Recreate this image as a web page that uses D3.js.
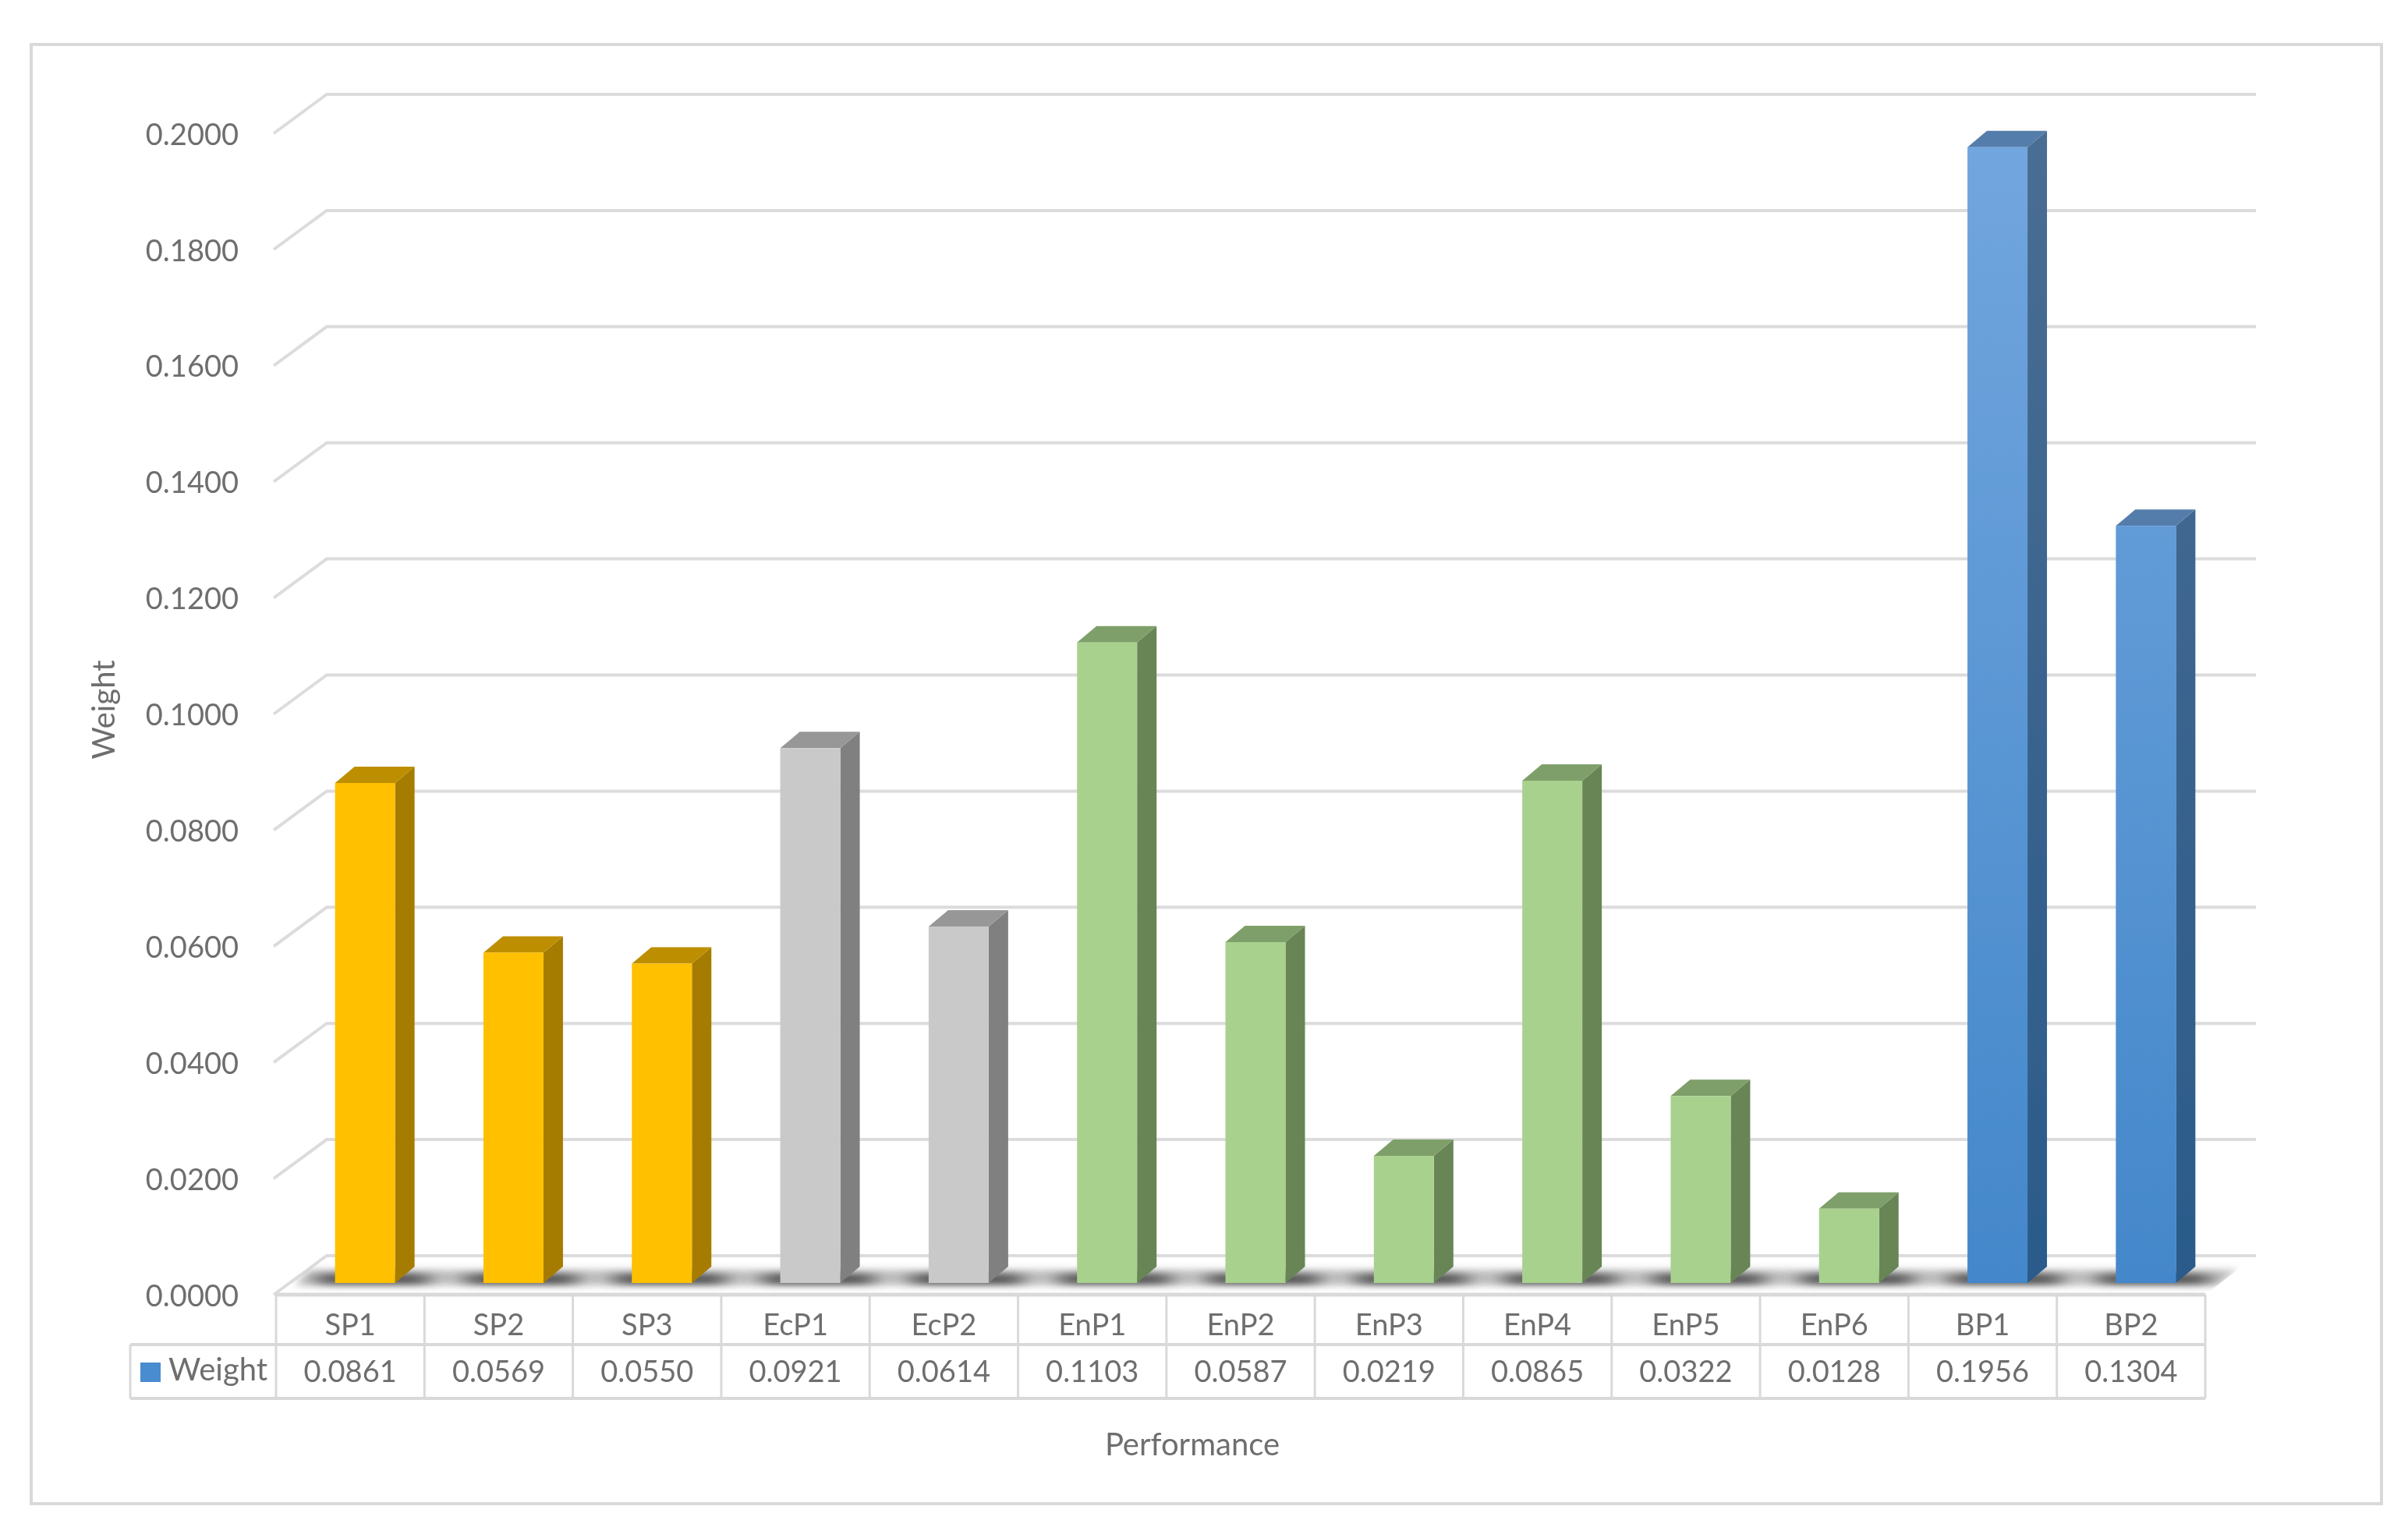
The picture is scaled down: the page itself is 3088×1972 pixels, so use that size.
<!DOCTYPE html>
<html>
<head>
<meta charset="utf-8">
<title>Weight by performance indicator</title>
<script src="https://d3js.org/d3.v7.min.js"></script>
<style>
  html, body { margin: 0; background: #fff; }
  text { font-family: Lato, "Open Sans", sans-serif; fill: #6e6e6e; }
</style>
</head>
<body>
<svg id="chart" width="3088" height="1972"></svg>
<script>
const categories = ["SP1", "SP2", "SP3", "EcP1", "EcP2", "EnP1", "EnP2", "EnP3", "EnP4", "EnP5", "EnP6", "BP1", "BP2"];
const weights = [0.0861, 0.0569, 0.0550, 0.0921, 0.0614, 0.1103, 0.0587, 0.0219, 0.0865, 0.0322, 0.0128, 0.1956, 0.1304];
const groups = ["SP", "SP", "SP", "EcP", "EcP", "EnP", "EnP", "EnP", "EnP", "EnP", "EnP", "BP", "BP"];
const yTicks = [0, 0.02, 0.04, 0.06, 0.08, 0.1, 0.12, 0.14, 0.16, 0.18, 0.2];

const fontSize = 38, titleSize = 40;
const left = 354, right = 2828;
const wallDx = 65, wallDy = 50;
const rowTop = 1660, rowMid = 1724, rowBottom = 1793;
const legendLeft = 167;

// bars stand part way into the floor
const barLift = 15, barShift = 19, barW = 77, sideDx = 25, sideDy = 21;

const palette = {
  SP:  { front: ["#ffc000", "#ffc000"], side: ["#a67c00", "#a67c00"], top: "#bd8f00" },
  EcP: { front: ["#c9c9c9", "#c9c9c9"], side: ["#808080", "#808080"], top: "#979797" },
  EnP: { front: ["#a9d18e", "#a9d18e"], side: ["#688555", "#688555"], top: "#7f9f6b" },
  BP:  { front: ["#72a6de", "#4387ca"], side: ["#4a6d93", "#2a5a8a"], top: "#557dab" }
};

const svg = d3.select("#chart");

const x = d3.scaleBand().domain(categories).range([left, right]);
const y = d3.scaleLinear().domain([0, 0.2]).range([1660, 171]);

const defs = svg.append("defs");
Object.keys(palette).forEach(function(g) {
  ["front", "side"].forEach(function(face) {
    const grad = defs.append("linearGradient")
      .attr("id", g + "-" + face)
      .attr("gradientUnits", "userSpaceOnUse")
      .attr("x1", 0).attr("x2", 0)
      .attr("y1", y(0.2)).attr("y2", y(0));
    grad.append("stop").attr("offset", 0).attr("stop-color", palette[g][face][0]);
    grad.append("stop").attr("offset", 1).attr("stop-color", palette[g][face][1]);
  });
});
defs.append("filter").attr("id", "shadowBlur")
  .attr("x", "-40%").attr("y", "-200%").attr("width", "180%").attr("height", "500%")
  .append("feGaussianBlur").attr("stdDeviation", "14 4");
defs.append("filter").attr("id", "bandBlur")
  .attr("x", "-5%").attr("y", "-100%").attr("width", "110%").attr("height", "300%")
  .append("feGaussianBlur").attr("stdDeviation", 5);
defs.append("filter").attr("id", "soft")
  .append("feGaussianBlur").attr("stdDeviation", 0.7);

const floorEdge = d3.line()([[left, y(0)], [left + wallDx, y(0) - wallDy], [right + wallDx, y(0) - wallDy], [right, y(0)]]) + "Z";
defs.append("clipPath").attr("id", "floorClip")
  .append("path")
  .attr("d", floorEdge);

const root = svg.append("g").attr("filter", "url(#soft)");

// outer frame
root.append("rect")
  .attr("x", 40).attr("y", 57).attr("width", 3014).attr("height", 1871)
  .attr("fill", "#fff").attr("stroke", "#d9d9d9").attr("stroke-width", 4);

// gridlines, each with its slanted run down the side wall
root.append("g").selectAll("path")
  .data(yTicks)
  .enter()
  .append("path")
    .attr("d", function(d) {
      return d3.line()([[left - 3, y(d)], [left + wallDx, y(d) - wallDy], [right + wallDx, y(d) - wallDy]]);
    })
    .attr("fill", "none")
    .attr("stroke", "#dcdcdc")
    .attr("stroke-width", 4);

// soft shadow on the floor under the bars
const shadow = root.append("g").attr("clip-path", "url(#floorClip)");
shadow.append("path")
  .attr("d", d3.line()([[left + 24, y(0) - 12], [left + 44, y(0) - 32], [right + 42, y(0) - 32], [right + 14, y(0) - 12]]) + "Z")
  .attr("fill", "#c2c2c2")
  .attr("filter", "url(#bandBlur)");
shadow.selectAll("rect")
  .data(categories)
  .enter()
  .append("rect")
    .attr("x", function(d) { return barX(d) - 22; })
    .attr("y", y(0) - 27)
    .attr("width", barW + 64)
    .attr("height", 14)
    .attr("fill", "#454545")
    .attr("opacity", 0.85)
    .attr("filter", "url(#shadowBlur)");

function barX(c) {
  return x(c) + x.bandwidth() / 2 + barShift - barW / 2;
}
function barTop(v) {
  return y(v) - barLift;
}

// bars: side face, top face, front face
const bars = root.append("g").selectAll("g")
  .data(categories)
  .enter()
  .append("g");

bars.append("path")
  .attr("d", function(c, i) {
    const x1 = barX(c) + barW, t = barTop(weights[i]), b = y(0) - barLift;
    return d3.line()([[x1, t], [x1 + sideDx, t - sideDy], [x1 + sideDx, b - sideDy], [x1, b]]) + "Z";
  })
  .attr("fill", function(c, i) { return "url(#" + groups[i] + "-side)"; });

bars.append("path")
  .attr("d", function(c, i) {
    const x0 = barX(c), t = barTop(weights[i]);
    return d3.line()([[x0, t], [x0 + sideDx, t - sideDy], [x0 + barW + sideDx, t - sideDy], [x0 + barW, t]]) + "Z";
  })
  .attr("fill", function(c, i) { return palette[groups[i]].top; });

bars.append("rect")
  .attr("x", barX)
  .attr("y", function(c, i) { return barTop(weights[i]); })
  .attr("width", barW)
  .attr("height", function(c, i) { return y(0) - barTop(weights[i]) - barLift; })
  .attr("fill", function(c, i) { return "url(#" + groups[i] + "-front)"; });

// value axis
const yAxis = root.append("g")
  .attr("transform", "translate(306,2)")
  .call(d3.axisLeft(y).tickValues(yTicks).tickFormat(d3.format(".4f")).tickSize(0).tickPadding(0));
yAxis.select(".domain").remove();
yAxis.selectAll("text").attr("font-size", fontSize).style("font-family", "Lato");

// data table
const table = root.append("g").attr("stroke", "#d9d9d9").attr("stroke-width", 3).attr("fill", "none");
table.append("path").attr("d", d3.line()([[left, rowTop], [right, rowTop]])).attr("stroke-width", 5);
table.append("path").attr("d", d3.line()([[legendLeft, rowMid], [right, rowMid]])).attr("stroke-width", 4);
table.append("path").attr("d", d3.line()([[legendLeft, rowBottom], [right, rowBottom]])).attr("stroke-width", 4);
table.append("path").attr("d", d3.line()([[legendLeft, rowMid], [legendLeft, rowBottom]]));
table.selectAll("line.cell")
  .data(x.domain().map(function(c) { return x(c); }).concat([right]))
  .enter()
  .append("line")
    .attr("class", "cell")
    .attr("x1", function(d) { return d; })
    .attr("x2", function(d) { return d; })
    .attr("y1", rowTop)
    .attr("y2", rowBottom);

root.append("g").selectAll("text")
  .data(categories)
  .enter()
  .append("text")
    .attr("x", function(c) { return x(c) + x.bandwidth() / 2; })
    .attr("y", 1699)
    .attr("dy", "0.35em")
    .attr("text-anchor", "middle")
    .attr("font-size", fontSize)
    .text(function(c) { return c; });

root.append("g").selectAll("text")
  .data(weights)
  .enter()
  .append("text")
    .attr("x", function(d, i) { return x(categories[i]) + x.bandwidth() / 2; })
    .attr("y", 1759)
    .attr("dy", "0.35em")
    .attr("text-anchor", "middle")
    .attr("font-size", fontSize)
    .text(d3.format(".4f"));

// legend key inside the table
root.append("rect")
  .attr("x", 180).attr("y", 1747).attr("width", 26).attr("height", 25)
  .attr("fill", "#4a8ccf");
root.append("text")
  .attr("x", 216).attr("y", 1756).attr("dy", "0.35em")
  .attr("font-size", titleSize)
  .text("Weight");

// axis titles
root.append("text")
  .attr("transform", "translate(133,910) rotate(-90)")
  .attr("text-anchor", "middle")
  .attr("dy", "0.35em")
  .attr("font-size", titleSize)
  .text("Weight");
root.append("text")
  .attr("x", 1529).attr("y", 1852).attr("dy", "0.35em")
  .attr("text-anchor", "middle")
  .attr("font-size", titleSize)
  .text("Performance");
</script>
</body>
</html>
